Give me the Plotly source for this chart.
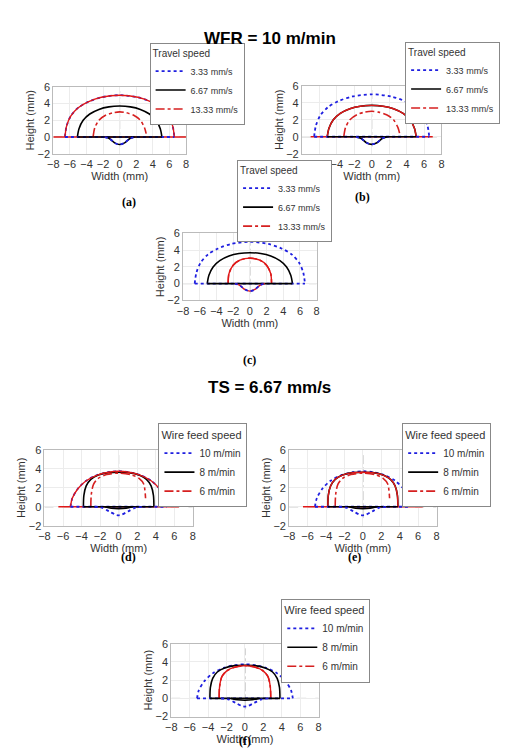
import plotly.graph_objects as go

# bead profile data (width mm, height mm)
big_x = [-6.6, -6.4, -5.9, -5.0, -3.8, -2.2, 0, 2.2, 3.8, 5.0, 5.9, 6.4, 6.6]
big_y = [0, 1.3, 2.5, 3.5, 4.2, 4.75, 5.0, 4.75, 4.2, 3.5, 2.5, 1.3, 0]
mid_x = [-5.1, -4.9, -4.4, -3.6, -2.5, -1.3, 0, 1.3, 2.5, 3.6, 4.4, 4.9, 5.1]
mid_y = [0, 1.0, 2.0, 2.75, 3.3, 3.6, 3.7, 3.6, 3.3, 2.75, 2.0, 1.0, 0]
sml_x = [-3.2, -3.0, -2.5, -1.7, -0.8, 0, 0.8, 1.7, 2.5, 3.0, 3.2]
sml_y = [0, 1.1, 2.0, 2.6, 2.9, 3.0, 2.9, 2.6, 2.0, 1.1, 0.4]
c13_x = [-2.6, -2.5, -2.0, -1.2, 0, 1.2, 2.0, 2.5, 2.6]
c13_y = [0, 1.2, 2.2, 2.8, 3.05, 2.8, 2.2, 1.2, 0]
dip_x = [-1.8, -1.2, -0.6, 0, 0.6, 1.2, 1.8]
dip_y = [0, -0.2, -0.7, -0.9, -0.7, -0.2, 0]

w10_x = [-5.2, -5.0, -4.4, -3.5, -2.3, -1.1, 0, 1.1, 2.3, 3.5, 4.4, 5.0, 5.2]
w10_y = [0, 0.9, 1.9, 2.75, 3.35, 3.65, 3.75, 3.65, 3.35, 2.75, 1.9, 0.9, 0]
w8_x = [-3.8, -3.75, -3.5, -3.0, -2.2, -1.1, 0, 1.1, 2.2, 3.0, 3.5, 3.75, 3.8]
w8_y = [0, 1.2, 2.2, 2.9, 3.35, 3.6, 3.65, 3.6, 3.35, 2.9, 2.2, 1.2, 0]
w6_x = [-3.0, -2.95, -2.7, -2.2, -1.3, 0, 1.3, 2.2, 2.7, 2.9]
w6_y = [0, 1.3, 2.4, 3.0, 3.4, 3.55, 3.4, 3.0, 2.4, 0.9]
w6s_x = [-2.8, -2.75, -2.5, -2.0, -1.2, 0, 1.2, 2.0, 2.5, 2.75, 2.8]
w6s_y = [0, 1.3, 2.4, 3.0, 3.4, 3.6, 3.4, 3.0, 2.4, 1.3, 0]
wdip_x = [-2.6, -1.8, -1.0, -0.3, 0, 0.3, 1.0, 1.8, 2.6]
wdip_y = [0, -0.1, -0.5, -0.85, -0.9, -0.85, -0.5, -0.1, 0]
sdip_x = [-1.5, -0.8, 0, 0.8, 1.5]
sdip_y = [0, -0.15, -0.2, -0.15, 0]

ts_names = ["3.33 mm/s", "6.67 mm/s", "13.33 mm/s"]
wfs_names = ["10 m/min", "8 m/min", "6 m/min"]

BLUE = dict(color="#1f1fe0", dash="dot", width=1.8)
BLACK = dict(color="black", width=1.6)
RED_DD = dict(color="#d62020", dash="dashdot", width=1.6)
RED = dict(color="#e01818", width=1.4)

# pixel boxes of each panel: left, right, top, bottom
boxes = [(40, 175, 74, 142), (293, 435, 73, 142), (172, 308, 223, 291),
         (31, 182, 443, 520), (280, 430, 443, 520), (160, 310, 640, 714)]
legend_pos = [(138, 29), (398, 28), (227, 148), (147, 416), (395, 416), (272, 594)]
labels = ["(a)", "(b)", "(c)", "(d)", "(e)", "(f)"]
label_y = [182, 177, 352, 561, 561, 748]
W, H = 520, 752

# panel content: list of (x, y, line style, legend index or None)
panels = [
    [(big_x, big_y, BLUE, 0), (mid_x, mid_y, BLACK, 1), (sml_x, sml_y, RED_DD, 2),
     (big_x, big_y, RED, None), ([-8, 8], [0, 0], RED, None),
     ([-6.6, 6.6], [0, 0], BLUE, None), ([-5.1, 5.1], [0, 0], BLACK, None),
     (dip_x, dip_y, BLACK, None), (dip_x, dip_y, BLUE, None)],
    [(big_x, big_y, BLUE, 0), (mid_x, mid_y, BLACK, 1), (sml_x, sml_y, RED_DD, 2),
     (mid_x, mid_y, RED, None), ([-7, 7], [0, 0], RED, None),
     ([-6.6, 6.6], [0, 0], BLUE, None), ([-5.1, 5.1], [0, 0], BLACK, None),
     (dip_x, dip_y, BLACK, None), (dip_x, dip_y, BLUE, None)],
    [(big_x, big_y, BLUE, 0), (mid_x, mid_y, BLACK, 1), (c13_x, c13_y, RED_DD, 2),
     (c13_x, c13_y, RED, None), ([-6.6, 6.6], [0, 0], BLUE, None),
     ([-5.1, 5.1], [0, 0], BLACK, None), (dip_x, dip_y, RED, None), (dip_x, dip_y, BLUE, None)],
    [(w10_x, w10_y, BLUE, 0), (w8_x, w8_y, BLACK, 1), (w6_x, w6_y, RED_DD, 2),
     (w10_x, w10_y, RED, None), ([-6.5, 6.5], [0, 0], RED, None),
     ([-5.2, 5.2], [0, 0], BLUE, None), ([-3.8, 3.8], [0, 0], BLACK, None),
     (wdip_x, wdip_y, BLUE, None), (sdip_x, sdip_y, BLACK, None)],
    [(w10_x, w10_y, BLUE, 0), (w8_x, w8_y, BLACK, 1), (w6_x, w6_y, RED_DD, 2),
     (w8_x, w8_y, RED, None), ([-6.5, 6.5], [0, 0], RED, None),
     ([-5.2, 5.2], [0, 0], BLUE, None), ([-3.8, 3.8], [0, 0], BLACK, None),
     (wdip_x, wdip_y, BLUE, None), (sdip_x, sdip_y, BLACK, None)],
    [(w10_x, w10_y, BLUE, 0), (w8_x, w8_y, BLACK, 1), (w6s_x, w6s_y, RED_DD, 2),
     (w6s_x, w6s_y, RED, None), ([-5.2, 5.2], [0, 0], BLUE, None),
     ([-3.8, 3.8], [0, 0], BLACK, None), (wdip_x, wdip_y, BLUE, None),
     (sdip_x, sdip_y, BLACK, None)],
]

fig = go.Figure()
layout = dict(width=W, height=H, margin=dict(l=0, r=0, t=0, b=0),
              paper_bgcolor="white", plot_bgcolor="white",
              font=dict(family="Liberation Sans, Arial", color="#333"),
              shapes=[], annotations=[])

for i, (content, box) in enumerate(zip(panels, boxes)):
    n = i + 1
    xa = "x" if n == 1 else "x%d" % n
    ya = "y" if n == 1 else "y%d" % n
    leg = "legend" if n == 1 else "legend%d" % n
    names = ts_names if i < 3 else wfs_names
    for xs, ys, ln, li in content:
        fig.add_trace(go.Scatter(
            x=xs, y=ys, mode="lines", line=dict(ln, shape="spline", smoothing=0.8),
            xaxis=xa, yaxis=ya, legend=leg,
            name=names[li] if li is not None else "",
            showlegend=li is not None, legendrank=li if li is not None else 1000))
    l, r, t, b = box
    ax = dict(range=[-8, 8], tickvals=[-8, -6, -4, -2, 0, 2, 4, 6, 8],
              showgrid=True, gridcolor="#ececec", zeroline=False,
              showline=True, linecolor="#bbb", mirror=True,
              tickfont=dict(size=11, color="#333"), ticks="",
              domain=[l / W, r / W], anchor=ya,
              title=dict(text="Width (mm)", font=dict(size=11), standoff=0))
    ay = dict(range=[-2, 6], tickvals=[-2, 0, 2, 4, 6],
              showgrid=True, gridcolor="#ececec", zeroline=False,
              showline=True, linecolor="#bbb", mirror=True,
              tickfont=dict(size=11, color="#333"), ticks="",
              domain=[1 - b / H, 1 - t / H], anchor=xa,
              title=dict(text="Height (mm)", font=dict(size=11), standoff=0))
    layout["xaxis" if n == 1 else "xaxis%d" % n] = ax
    layout["yaxis" if n == 1 else "yaxis%d" % n] = ay
    # reference lines at zero
    layout["shapes"].append(dict(type="line", xref=xa, yref=ya, x0=-8, x1=8, y0=0, y1=0,
                                 line=dict(color="#999", width=1, dash="dash"), layer="below"))
    layout["shapes"].append(dict(type="line", xref=xa, yref=ya, x0=0, x1=0, y0=-1.2, y1=5.5,
                                 line=dict(color="#999", width=1, dash="dashdot"), layer="below"))
    lx, lt = legend_pos[i]
    fs = 9 if i < 3 else 10
    layout[leg] = dict(x=lx / W, y=1 - lt / H, xanchor="left", yanchor="top",
                       bordercolor="#888", borderwidth=1, bgcolor="white",
                       title=dict(text="Travel speed" if i < 3 else "Wire feed speed",
                                  font=dict(size=fs + 1)),
                       font=dict(size=fs), tracegroupgap=0, itemwidth=30)
    layout["annotations"].append(dict(
        text="<b>%s</b>" % labels[i], x=(l + r) / 2 / W, y=1 - label_y[i] / H,
        xref="paper", yref="paper", showarrow=False,
        font=dict(family="Liberation Serif", size=12, color="black")))

layout["annotations"].append(dict(text="<b>WFR = 10 m/min</b>", x=0.5, y=1 - 13 / H,
                                  xref="paper", yref="paper", showarrow=False,
                                  font=dict(size=17, color="black")))
layout["annotations"].append(dict(text="<b>TS = 6.67 mm/s</b>", x=0.5, y=1 - 380 / H,
                                  xref="paper", yref="paper", showarrow=False,
                                  font=dict(size=17, color="black")))

fig.update_layout(**layout)
fig.write_html("out.html")
